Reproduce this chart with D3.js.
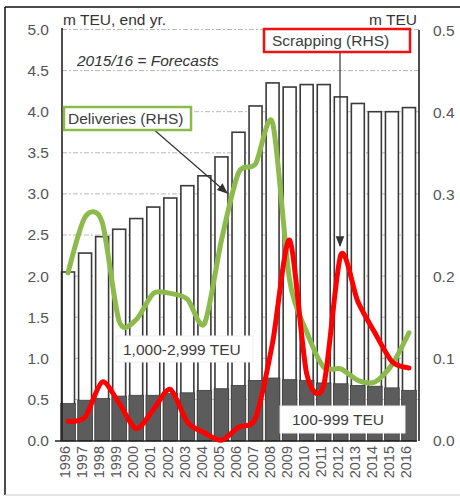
<!DOCTYPE html>
<html><head><meta charset="utf-8">
<script src="https://cdn.jsdelivr.net/npm/d3@7"></script>
<style>
html,body{margin:0;padding:0;background:#fff;}
svg{display:block;font-family:"Liberation Sans",Arial,sans-serif;}
</style></head>
<body>
<svg id="chart" width="460" height="496"></svg>
<script>
const years = ["1996","1997","1998","1999","2000","2001","2002","2003","2004","2005","2006","2007","2008","2009","2010","2011","2012","2013","2014","2015","2016"];
// Fleet, m TEU, end yr. (LHS)
const totalFleet = [2.05,2.28,2.48,2.57,2.70,2.84,2.95,3.10,3.22,3.45,3.75,4.07,4.35,4.30,4.33,4.33,4.18,4.10,4.00,4.00,4.05];
const smallFleet = [0.45,0.49,0.51,0.54,0.55,0.55,0.57,0.58,0.61,0.63,0.67,0.73,0.76,0.74,0.73,0.70,0.69,0.67,0.66,0.64,0.61];
// RHS, m TEU
const deliveries = [0.205,0.273,0.267,0.146,0.148,0.180,0.180,0.173,0.143,0.245,0.327,0.338,0.388,0.196,0.133,0.090,0.088,0.074,0.072,0.093,0.132];
const scrapping = [0.024,0.029,0.072,0.046,0.015,0.038,0.063,0.023,0.010,0.001,0.017,0.028,0.120,0.245,0.082,0.068,0.227,0.170,0.132,0.097,0.089];
const leftTicks = [0,0.5,1,1.5,2,2.5,3,3.5,4,4.5,5];
const rightTicks = [0,0.1,0.2,0.3,0.4,0.5];

const svg = d3.select("#chart");
const x = d3.scaleBand().domain(years).range([59.5,417.5]).paddingInner(0.24).paddingOuter(0.12);
const yL = d3.scaleLinear().domain([0,5]).range([440.5,29.5]);
const yR = d3.scaleLinear().domain([0,0.5]).range([441,31]);
const xL = 62, xR = 419;

// frame
svg.append("line").attr("x1",5).attr("x2",5).attr("y1",7).attr("y2",495).attr("stroke","#111").attr("stroke-width",1.5);
svg.append("line").attr("x1",5).attr("x2",460).attr("y1",7).attr("y2",7).attr("stroke","#111").attr("stroke-width",1.5);
svg.append("line").attr("x1",5).attr("x2",460).attr("y1",495).attr("y2",495).attr("stroke","#ccc").attr("stroke-width",1);

// gridlines
svg.append("g").selectAll("line").data(leftTicks.slice(1)).join("line")
  .attr("x1",xL).attr("x2",xR).attr("y1",d=>yL(d)).attr("y2",d=>yL(d))
  .attr("stroke","#b8b8b8").attr("stroke-width",1).attr("stroke-dasharray","5,2,2,2");

// bars
const bars = svg.append("g");
bars.selectAll("rect.tot").data(years).join("rect").attr("class","tot")
  .attr("x",d=>x(d)).attr("width",x.bandwidth())
  .attr("y",(d,i)=>yL(totalFleet[i])).attr("height",(d,i)=>yL(0)-yL(totalFleet[i]))
  .attr("fill","#fff").attr("stroke","#3a3a3a").attr("stroke-width",1.6);
bars.selectAll("rect.small").data(years).join("rect").attr("class","small")
  .attr("x",d=>x(d)-0.8).attr("width",x.bandwidth()+1.6)
  .attr("y",(d,i)=>yL(smallFleet[i])).attr("height",(d,i)=>yL(0)-yL(smallFleet[i]))
  .attr("fill","#5c5c5c").attr("stroke","#3a3a3a").attr("stroke-width",0.8);

// baseline
svg.append("line").attr("x1",55).attr("x2",417).attr("y1",441).attr("y2",441).attr("stroke","#222").attr("stroke-width",1.5);

// label boxes
function box(x0,y0,w,h,txt,stroke,sw,tx){
  const g = svg.append("g");
  g.append("rect").attr("x",x0).attr("y",y0).attr("width",w).attr("height",h)
   .attr("fill","#fff").attr("stroke",stroke).attr("stroke-width",sw);
  g.append("text").attr("x",tx).attr("y",y0+h/2).attr("dy","0.36em")
   .attr("font-size",15.5).attr("fill","#3c3c3c").text(txt);
  return g;
}
box(116,336,137,26,"1,000-2,999 TEU","#eee",1,123);
box(280,406,125,27,"100-999 TEU","#eee",1,292);

// lines
const lineGen = d3.line().x((d,i)=>x(years[i])+x.bandwidth()/2).y(d=>yR(d)).curve(d3.curveCardinal.tension(0.2));
svg.append("path").datum(deliveries).attr("d",lineGen).attr("fill","none")
  .attr("stroke","#8cbb4c").attr("stroke-width",5).attr("stroke-linejoin","round").attr("stroke-linecap","round");
svg.append("path").datum(scrapping).attr("d",lineGen).attr("fill","none")
  .attr("stroke","#ff0000").attr("stroke-width",5).attr("stroke-linejoin","round").attr("stroke-linecap","round");

// axes
const axL = svg.append("g").attr("transform",`translate(${xL},0)`)
  .call(d3.axisLeft(yL).tickValues(leftTicks).tickFormat(d3.format(".1f")).tickSize(0).tickPadding(13));
axL.select(".domain").remove();
axL.selectAll("text").attr("font-size",15.5).attr("fill","#555").attr("font-family","'Liberation Sans',Arial,sans-serif");
svg.append("line").attr("x1",xL).attr("x2",xL).attr("y1",28).attr("y2",441).attr("stroke","#222").attr("stroke-width",1.6);

const axR = svg.append("g").attr("transform",`translate(${xR},0)`)
  .call(d3.axisRight(yR).tickValues(rightTicks).tickFormat(d3.format(".1f")).tickSize(0).tickPadding(14));
axR.select(".domain").remove();
axR.selectAll("text").attr("font-size",15.5).attr("fill","#555").attr("font-family","'Liberation Sans',Arial,sans-serif");
svg.append("line").attr("x1",xR).attr("x2",xR).attr("y1",30).attr("y2",441).attr("stroke","#222").attr("stroke-width",1.6);

const axB = svg.append("g").attr("transform","translate(-3,446)")
  .call(d3.axisBottom(x).tickSize(0).tickPadding(0));
axB.select(".domain").remove();
axB.selectAll("text").attr("font-size",14.5).attr("fill","#555")
  .attr("font-family","'Liberation Sans',Arial,sans-serif")
  .attr("transform","rotate(-90)").attr("text-anchor","end").attr("x",0).attr("y",0).attr("dy","0.36em");

// titles
svg.append("text").attr("x",63).attr("y",25).attr("font-size",15.5).attr("fill","#333").text("m TEU, end yr.");
svg.append("text").attr("x",417).attr("y",25).attr("text-anchor","end").attr("font-size",15.5).attr("fill","#333").text("m TEU");
svg.append("text").attr("x",77).attr("y",66).attr("font-size",15.5).attr("font-style","italic").attr("fill","#333").text("2015/16 = Forecasts");

// arrows
const defs = svg.append("defs");
defs.append("marker").attr("id","ah").attr("viewBox","0 0 10 10").attr("refX",9).attr("refY",5)
  .attr("markerWidth",9).attr("markerHeight",9).attr("orient","auto")
  .append("path").attr("d","M0,1 L10,5 L0,9 Z").attr("fill","#333");
svg.append("line").attr("x1",152).attr("y1",128).attr("x2",227).attr("y2",193)
  .attr("stroke","#333").attr("stroke-width",1.2).attr("marker-end","url(#ah)");
svg.append("line").attr("x1",340).attr("y1",52).attr("x2",340).attr("y2",246)
  .attr("stroke","#333").attr("stroke-width",1.2).attr("marker-end","url(#ah)");

// callout boxes
box(64,107,127,23,"Deliveries (RHS)","#8cbb4c",2.5,68);
box(264,29,146,23,"Scrapping (RHS)","#ee1111",2.5,272);
</script>
</body></html>
